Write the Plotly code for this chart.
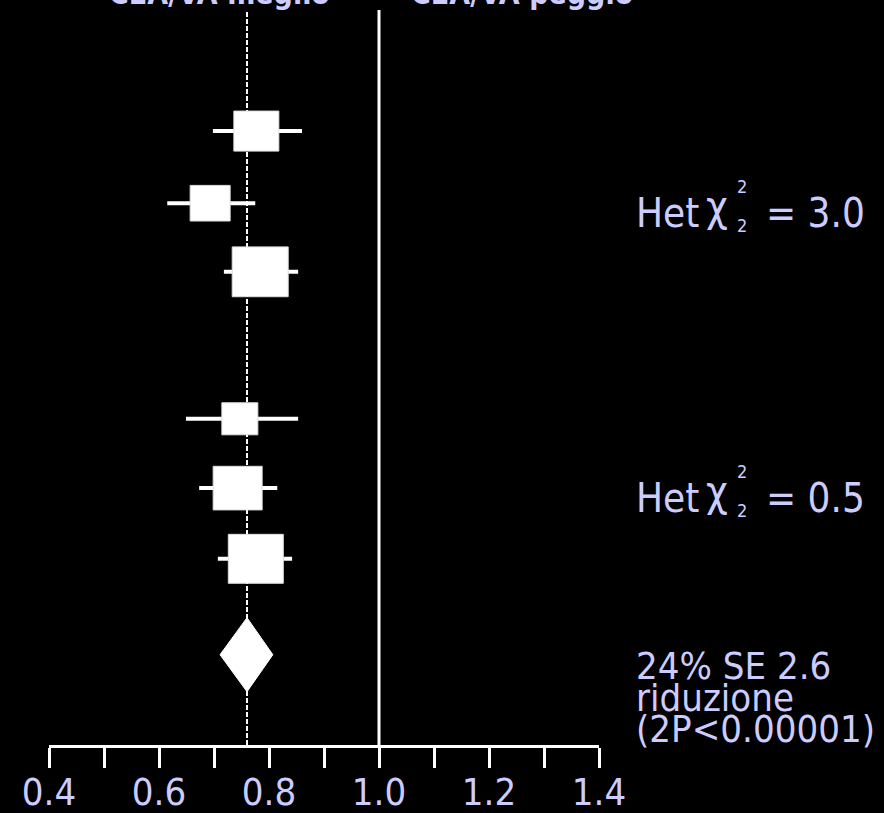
import plotly.graph_objects as go

# Forest plot: ratio estimates with 95% CI, two groups of three subgroups plus overall
row_labels = ["A1", "A2", "A3", "B1", "B2", "B3"]
estimate = [0.777, 0.693, 0.784, 0.747, 0.743, 0.776]
ci_low = [0.698, 0.615, 0.718, 0.649, 0.673, 0.707]
ci_high = [0.860, 0.775, 0.853, 0.853, 0.815, 0.842]

overall_est = 0.76
overall_low = 0.711
overall_high = 0.807

het_chi2 = ["3.0", "0.5"]
tick_values = [0.4, 0.6, 0.8, 1.0, 1.2, 1.4]
tick_text = ["0.4", "0.6", "0.8", "1.0", "1.2", "1.4"]

# layout: vertical slot of each row (in row units) and box size (px)
row_y = [1.73, 2.76, 3.74, 5.84, 6.83, 7.84]
overall_y = 9.21
box_px = [45, 40, 56, 36, 49, 55]

W, H = 884, 813
M_L, M_R, M_T, M_B = 49, 285, 10, 68
X_MIN, X_MAX = 0.4, 1.4
Y_MAX = 10.5
px_per_x = (W - M_L - M_R) / (X_MAX - X_MIN)
px_per_y = (H - M_T - M_B) / Y_MAX

LAV = "#ccccff"
FONT = "DejaVu Sans Condensed, DejaVu Sans, Verdana, sans-serif"

fig = go.Figure()

# confidence interval whiskers
for est, lo, hi, y in zip(estimate, ci_low, ci_high, row_y):
    fig.add_trace(go.Scatter(x=[lo, hi], y=[y, y], mode="lines",
                             line=dict(color="white", width=4),
                             hoverinfo="skip", showlegend=False))

# weighted boxes
for est, y, s in zip(estimate, row_y, box_px):
    hw = s / 2 / px_per_x
    hh = 0.89 * s / 2 / px_per_y
    fig.add_trace(go.Scatter(
        x=[est - hw, est + hw, est + hw, est - hw, est - hw],
        y=[y - hh, y - hh, y + hh, y + hh, y - hh],
        mode="lines", fill="toself", fillcolor="white",
        line=dict(color="#dddddd", width=1),
        hoverinfo="skip", showlegend=False))

# overall diamond
dh = 37 / px_per_y
fig.add_trace(go.Scatter(
    x=[overall_low, overall_est, overall_high, overall_est, overall_low],
    y=[overall_y, overall_y - dh, overall_y, overall_y + dh, overall_y],
    mode="lines", fill="toself", fillcolor="white",
    line=dict(color="white", width=1),
    hoverinfo="skip", showlegend=False))

# reference line at 1 and dashed line at overall estimate
fig.add_shape(type="line", xref="x", yref="paper", x0=1.0, x1=1.0, y0=0, y1=1,
              line=dict(color="white", width=3), layer="below")
fig.add_shape(type="line", xref="x", yref="paper", x0=overall_est, x1=overall_est,
              y0=0, y1=1, line=dict(color="white", width=2, dash="5px,2px"),
              layer="below")


def px_to_paper_x(px):
    return (px - M_L) / (W - M_L - M_R)


def px_to_y(px):
    return (px - M_T) / px_per_y


def txt(text, px_x, px_y, size, anchor="left", bold=False):
    fig.add_annotation(
        text=f"<b>{text}</b>" if bold else text,
        xref="paper", yref="y", x=px_to_paper_x(px_x), y=px_to_y(px_y),
        xanchor=anchor, yanchor="middle", showarrow=False,
        font=dict(family=FONT, size=size, color=LAV))


# column headings (top, partially above the figure)
for label, cx in [("CEA/VA meglio", 219), ("CEA/VA peggio", 522)]:
    fig.add_annotation(text=f"<b>{label}</b>", xref="paper", yref="paper",
                       x=px_to_paper_x(cx), y=1 + 17 / (H - M_T - M_B),
                       xanchor="center", yanchor="middle", showarrow=False,
                       font=dict(family=FONT, size=30, color=LAV))

# heterogeneity labels
for val, cy in zip(het_chi2, [213, 498]):
    txt("Het", 634, cy, 40)
    txt("χ", 704, cy - 7, 42)
    txt("2", 735, cy - 27, 18)
    txt("2", 735, cy + 12, 18)
    txt("= " + val, 764, cy, 40)

# overall result text
txt("24% SE 2.6", 634, 666, 38)
txt("riduzione", 634, 698, 38)
txt("(2P<0.00001)", 634, 729, 38)

fig.update_layout(
    width=W, height=H,
    margin=dict(l=M_L, r=M_R, t=M_T, b=M_B, pad=0, autoexpand=False),
    paper_bgcolor="black", plot_bgcolor="black",
    showlegend=False,
    xaxis=dict(range=[X_MIN, X_MAX], showgrid=False, zeroline=False,
               automargin=False,
               showline=True, linecolor="white", linewidth=3,
               tickmode="array", tickvals=tick_values, ticktext=tick_text,
               ticks="outside", ticklen=20, tickwidth=3, tickcolor="white",
               ticklabelstandoff=-9,
               minor=dict(dtick=0.1, tick0=0.4, ticks="outside", ticklen=20,
                          tickwidth=3, tickcolor="white"),
               tickfont=dict(family=FONT, size=38, color=LAV)),
    yaxis=dict(range=[Y_MAX, 0], visible=False, showgrid=False, zeroline=False,
               automargin=False),
)

fig.write_html("out.html")
